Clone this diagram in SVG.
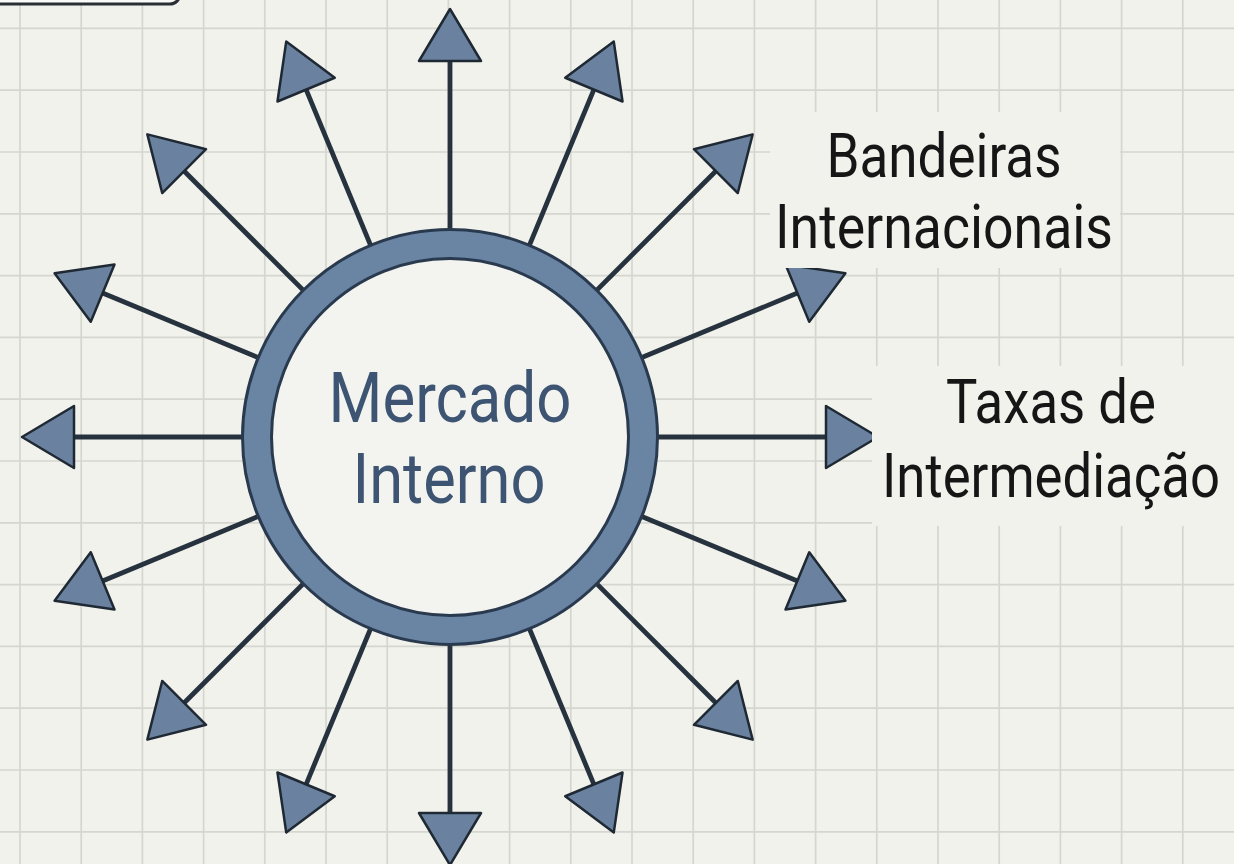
<svg xmlns="http://www.w3.org/2000/svg" xmlns:xlink="http://www.w3.org/1999/xlink" width="1234" height="864" viewBox="0 0 1234 864">
  <style>
    .grid { stroke: #d6d6d0; stroke-width: 1.7; fill: none; }
    .ray-line { stroke: #27323f; stroke-width: 4.8; fill: none; stroke-linecap: butt; }
    .ray-head { fill: #6a829f; stroke: #1f2934; stroke-width: 2.5; stroke-linejoin: round; }
    .label { font-family: Roboto, "Liberation Sans", sans-serif; font-size: 62px; fill: #161616; text-anchor: middle; }
    .center-text { font-family: Roboto, "Liberation Sans", sans-serif; font-size: 70px; fill: #3d5572; text-anchor: middle; }
    .label-bg { fill: #f2f2ed; }
  </style>
  <defs>
    <g id="ray">
      <line class="ray-line" x1="640" y1="437" x2="830" y2="437"/>
      <polygon class="ray-head" points="878,437 826,406 826,468"/>
    </g>
  </defs>

  <rect x="0" y="0" width="1234" height="864" fill="#f2f2ed"/>
  <path class="grid" d="M20 0V864M81.2 0V864M142.4 0V864M203.6 0V864M264.8 0V864M326 0V864M387.2 0V864M448.4 0V864M509.6 0V864M570.8 0V864M632 0V864M693.2 0V864M754.4 0V864M815.6 0V864M876.8 0V864M938 0V864M999.2 0V864M1060.4 0V864M1121.6 0V864M1182.8 0V864M0 28.4H1234M0 90.2H1234M0 152H1234M0 213.8H1234M0 275.6H1234M0 337.4H1234M0 399.2H1234M0 461H1234M0 522.8H1234M0 584.6H1234M0 646.4H1234M0 708.2H1234M0 770H1234M0 831.8H1234"/>

  <g id="top-box">
    <rect x="-20" y="-60" width="200" height="64" rx="10" fill="#fafaf8" stroke="#2a2f36" stroke-width="3"/>
  </g>

  <g id="connectors">
    <use href="#ray" xlink:href="#ray"/>
    <use href="#ray" xlink:href="#ray" transform="rotate(-22.5 450 437)"/>
    <use href="#ray" xlink:href="#ray" transform="rotate(-45 450 437)"/>
    <use href="#ray" xlink:href="#ray" transform="rotate(-67.5 450 437)"/>
    <use href="#ray" xlink:href="#ray" transform="rotate(-90 450 437)"/>
    <use href="#ray" xlink:href="#ray" transform="rotate(-112.5 450 437)"/>
    <use href="#ray" xlink:href="#ray" transform="rotate(-135 450 437)"/>
    <use href="#ray" xlink:href="#ray" transform="rotate(-157.5 450 437)"/>
    <use href="#ray" xlink:href="#ray" transform="rotate(180 450 437)"/>
    <use href="#ray" xlink:href="#ray" transform="rotate(157.5 450 437)"/>
    <use href="#ray" xlink:href="#ray" transform="rotate(135 450 437)"/>
    <use href="#ray" xlink:href="#ray" transform="rotate(112.5 450 437)"/>
    <use href="#ray" xlink:href="#ray" transform="rotate(90 450 437)"/>
    <use href="#ray" xlink:href="#ray" transform="rotate(67.5 450 437)"/>
    <use href="#ray" xlink:href="#ray" transform="rotate(45 450 437)"/>
    <use href="#ray" xlink:href="#ray" transform="rotate(22.5 450 437)"/>
  </g>

  <g id="mercado-interno">
    <circle cx="450" cy="437" r="193" fill="#f3f3ef" stroke="#2a3a4e" stroke-width="32"/>
    <circle cx="450" cy="437" r="193" fill="none" stroke="#6a84a4" stroke-width="26"/>
    <text class="center-text" x="450" y="422" textLength="243" lengthAdjust="spacingAndGlyphs">Mercado</text>
    <text class="center-text" x="449" y="503" textLength="193" lengthAdjust="spacingAndGlyphs">Interno</text>
  </g>

  <g id="bandeiras-internacionais">
    <rect class="label-bg" x="770" y="112" width="350" height="156"/>
    <text class="label" x="944" y="177" textLength="235" lengthAdjust="spacingAndGlyphs">Bandeiras</text>
    <text class="label" x="944" y="248" textLength="338" lengthAdjust="spacingAndGlyphs">Internacionais</text>
  </g>

  <g id="taxas-de-intermediacao">
    <rect class="label-bg" x="872" y="366" width="362" height="160"/>
    <text class="label" transform="translate(1051 423) scale(0.85 1)">Taxas de</text>
    <text class="label" transform="translate(1051 497) scale(0.85 1)">Intermediação</text>
  </g>
</svg>
